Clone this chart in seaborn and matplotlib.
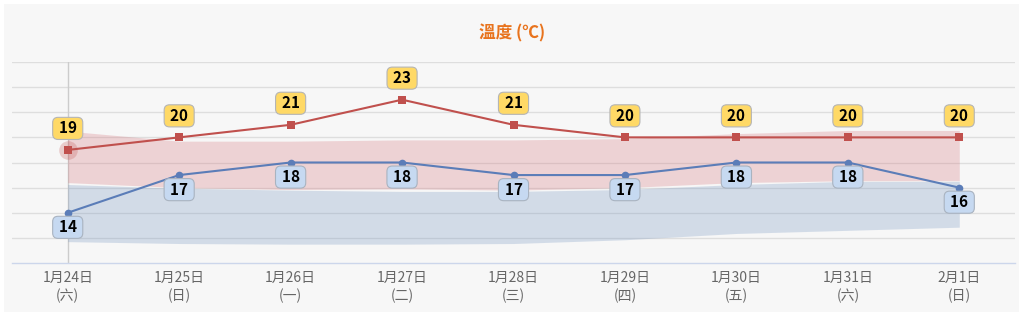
import matplotlib
matplotlib.use("Agg")
import matplotlib.pyplot as plt
from matplotlib.patches import Rectangle
import seaborn as sns
import pandas as pd

# data
dates = ["1月24日", "1月25日", "1月26日", "1月27日", "1月28日",
         "1月29日", "1月30日", "1月31日", "2月1日"]
weekdays = ["六", "日", "一", "二", "三", "四", "五", "六", "日"]
highs = [19, 20, 21, 23, 21, 20, 20, 20, 20]
lows = [14, 17, 18, 18, 17, 17, 18, 18, 16]
high_band_top = [20.5, 19.7, 19.7, 19.8, 19.8, 19.9, 20.3, 20.55, 20.55]
high_band_bottom = [16.4, 16.0, 15.85, 15.9, 15.8, 16.0, 16.4, 16.55, 16.55]
low_band_top = [16.25, 15.95, 15.8, 15.7, 15.7, 15.85, 16.25, 16.5, 16.5]
low_band_bottom = [11.7, 11.55, 11.5, 11.5, 11.55, 11.85, 12.35, 12.6, 12.85]

df = pd.DataFrame({"day": range(len(dates)), "high": highs, "low": lows})

sns.set_theme(style="white")
plt.rcParams['font.family'] = ['Noto Sans CJK TC', 'DejaVu Sans']

fig = plt.figure(figsize=(10.24, 3.16), dpi=100, facecolor="white")
# light grey panel behind everything
fig.patches.append(Rectangle((4 / 1024, 4 / 316), 1015 / 1024, 308 / 316,
                             transform=fig.transFigure, facecolor="#f7f7f7",
                             edgecolor="none", zorder=-10))

ax = fig.add_axes([12 / 1024, 1 - 263 / 316, 1003 / 1024, 201 / 316])
ax.set_facecolor("none")

# gridlines
for v in range(12, 27, 2):
    ax.axhline(v, color="#dedede", lw=1, zorder=0)

# crosshair on first day
ax.axvline(0, color="#cccccc", lw=1, zorder=0)

# range bands
ax.fill_between(df["day"], high_band_bottom, high_band_top,
                color="#d3676f", alpha=0.25, lw=0, zorder=1)
ax.fill_between(df["day"], low_band_bottom, low_band_top,
                color="#678bbb", alpha=0.25, lw=0, zorder=1)

# halo on hovered point
ax.scatter([0], [highs[0]], s=180, color="#c0504d", alpha=0.25, lw=0, zorder=3)

sns.lineplot(data=df, x="day", y="high", color="#c0504d", lw=1.5,
             marker="s", markersize=6, markeredgewidth=0, ax=ax, zorder=4)
sns.lineplot(data=df, x="day", y="low", color="#5b7db8", lw=1.5,
             marker="o", markersize=5.5, markeredgewidth=0, ax=ax, zorder=4)

box_high = dict(boxstyle="round,pad=0.2,rounding_size=0.35",
                fc="#ffd966", ec="#b5b5b5", lw=0.8)
box_low = dict(boxstyle="round,pad=0.2,rounding_size=0.35",
               fc="#c6d9f1", ec="#a9b3c0", lw=0.8)
sp = "\u2009"
for x, h, l in zip(df["day"], highs, lows):
    ax.annotate(f"{sp}{h}{sp}", (x, h), xytext=(0, 15.5), textcoords="offset points",
                ha="center", va="center", fontsize=11, fontweight="bold",
                color="black", zorder=6, bbox=box_high)
    ax.annotate(f"{sp}{l}{sp}", (x, l), xytext=(0, -10.5), textcoords="offset points",
                ha="center", va="center", fontsize=11, fontweight="bold",
                color="black", zorder=6, bbox=box_low)

ax.set_xlim(-0.5, 8.5)
ax.set_ylim(10, 26)
ax.set_yticks([])
ax.set_xticks(df["day"])
ax.set_xticklabels([f"{d}\n({w})" for d, w in zip(dates, weekdays)],
                   fontsize=10, color="#666666", linespacing=1.25)
ax.tick_params(axis="x", length=0, pad=6)
ax.set_xlabel("")
ax.set_ylabel("")
for s in ["top", "left", "right"]:
    ax.spines[s].set_visible(False)
ax.spines["bottom"].set_color("#ccd6eb")
ax.spines["bottom"].set_linewidth(1)

fig.text(512 / 1024, 1 - 33 / 316, "溫度 (℃)", ha="center", va="center",
         fontsize=12, fontweight="bold", color="#e8731d")

fig.savefig("out.png", dpi=100, facecolor="white")
